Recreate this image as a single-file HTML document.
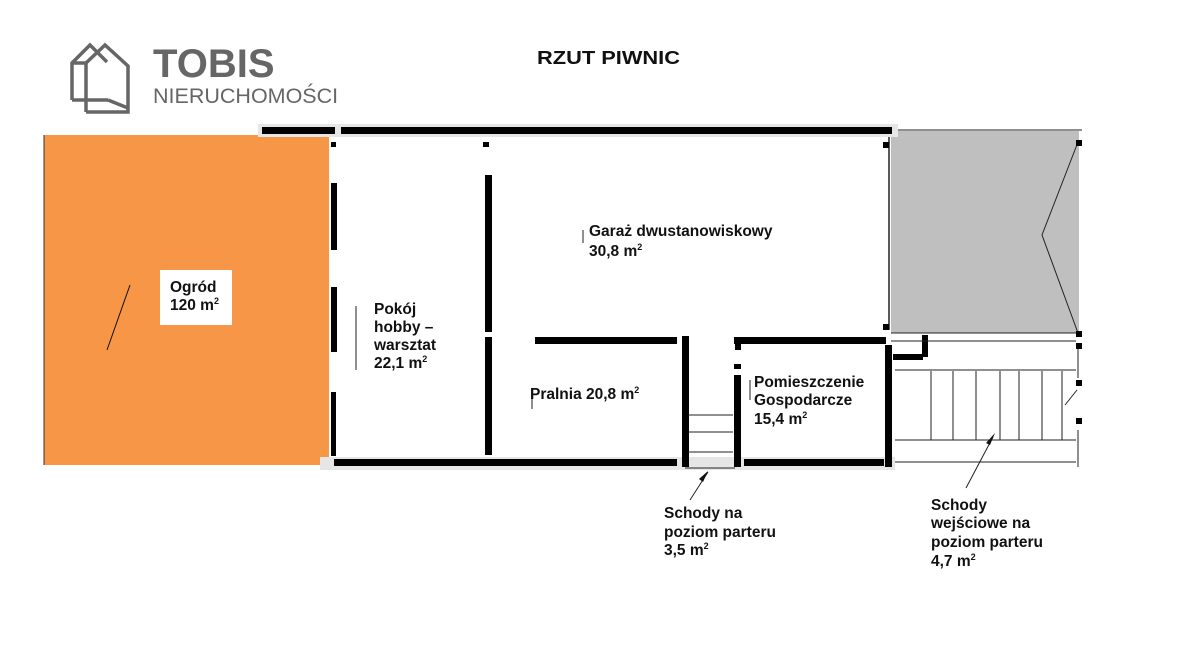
<!DOCTYPE html>
<html><head><meta charset="utf-8"><style>
html,body{margin:0;padding:0;background:#fff;width:1200px;height:650px;overflow:hidden}
svg{display:block}
text{font-family:"Liberation Sans",sans-serif;font-weight:bold;font-size:15.5px;fill:#111}
</style></head><body>
<svg width="1200" height="650" viewBox="0 0 1200 650">
<!-- logo -->
<g fill="none" stroke="#666" stroke-width="3.5" stroke-linejoin="miter">
<polyline points="72,100 72,63 90,45 107,62"/>
<line x1="72" y1="63" x2="86" y2="63"/>
<polyline points="86,112 86,63 105,45 128,66 128,112 86,112"/>
<line x1="72" y1="100" x2="108" y2="100"/>
<line x1="108" y1="100" x2="128" y2="108"/>
</g>
<text x="153" y="77" style="font-size:40px;fill:#666">TOBIS</text>
<text x="153" y="103" style="font-size:21.5px;font-weight:normal;fill:#666">NIERUCHOMOŚCI</text>
<text x="537" y="64" style="font-size:18px" textLength="143" lengthAdjust="spacingAndGlyphs">RZUT PIWNIC</text>

<!-- garden -->
<rect x="44" y="135" width="285" height="330" fill="#f79646"/>
<line x1="44" y1="135" x2="44" y2="465" stroke="#333" stroke-width="1"/>
<rect x="160" y="270" width="72" height="55" fill="#fff"/>
<line x1="107" y1="350" x2="130" y2="285" stroke="#111" stroke-width="1"/>
<text x="170" y="292">Ogród</text>
<text x="170" y="310">120 m<tspan dy="-6" style="font-size:9px">2</tspan></text>

<!-- grey area -->
<rect x="891" y="131" width="188" height="202" fill="#bfbfbf"/>
<polyline points="1078,142 1042,235 1078,333" fill="none" stroke="#222" stroke-width="1"/>
<line x1="889" y1="130" x2="1082" y2="130" stroke="#222" stroke-width="1"/>
<line x1="889" y1="130" x2="889" y2="330" stroke="#222" stroke-width="1.5"/>
<line x1="891" y1="333" x2="1080" y2="333" stroke="#222" stroke-width="1"/>

<!-- wall shadows -->
<g fill="#e6e6e6">
<rect x="258" y="124" width="640" height="13"/>
<rect x="320" y="457" width="575" height="13"/>
</g>
<!-- walls -->
<g fill="#000">
<rect x="262" y="127" width="73" height="7"/>
<rect x="341" y="127" width="551" height="7"/>
<rect x="331" y="183" width="6" height="67"/>
<rect x="331" y="287" width="6" height="65"/>
<rect x="331" y="392" width="5" height="64"/>
<rect x="334" y="459" width="343" height="7"/>
<rect x="485" y="175" width="7" height="157"/>
<rect x="485" y="337" width="7" height="118"/>
<rect x="535" y="337" width="142" height="7"/>
<rect x="682" y="336" width="7" height="131"/>
<rect x="734" y="375" width="7" height="92"/>
<rect x="734" y="337" width="152" height="7"/>
<rect x="744" y="459" width="140" height="7"/>
<rect x="885" y="345" width="7" height="122"/>
<rect x="922" y="335" width="6" height="22"/>
<rect x="893" y="354" width="30" height="6"/>
<rect x="331" y="142" width="5" height="5"/>
<rect x="483" y="142" width="6" height="5"/>
<rect x="735" y="344" width="6" height="6"/>
<rect x="734" y="364" width="7" height="5"/>
<rect x="883" y="142" width="6" height="6"/>
<rect x="883" y="324" width="6" height="6"/>
<rect x="1076" y="140" width="6" height="6"/>
<rect x="1076" y="331" width="6" height="6"/>
<rect x="1076" y="343" width="6" height="6"/>
<rect x="1076" y="380" width="6" height="6"/>
<rect x="1076" y="418" width="6" height="6"/>
</g>
<!-- stairs & leaders -->
<g stroke="#222" stroke-width="1" fill="none">
<line x1="688" y1="415" x2="733" y2="415"/>
<line x1="688" y1="432" x2="733" y2="432"/>
<line x1="688" y1="452" x2="733" y2="452"/>
<line x1="685" y1="468" x2="735" y2="468"/>
<line x1="891" y1="341" x2="1076" y2="341"/>
<line x1="895" y1="370" x2="1076" y2="370"/>
<line x1="895" y1="440" x2="1076" y2="440"/>
<line x1="895" y1="462" x2="1076" y2="462"/>
<line x1="931" y1="371" x2="931" y2="440"/>
<line x1="953" y1="371" x2="953" y2="440"/>
<line x1="976" y1="371" x2="976" y2="440"/>
<line x1="1000" y1="371" x2="1000" y2="440"/>
<line x1="1019" y1="371" x2="1019" y2="440"/>
<line x1="1042" y1="371" x2="1042" y2="440"/>
<line x1="1062" y1="371" x2="1062" y2="440"/>
<line x1="1078" y1="349" x2="1078" y2="378"/>
<line x1="1078" y1="430" x2="1078" y2="467"/>
<line x1="1077" y1="390" x2="1065" y2="405"/>
<line x1="356" y1="306" x2="356" y2="370"/>
<line x1="583" y1="230" x2="583" y2="243"/>
<line x1="532" y1="392" x2="532" y2="409"/>
<line x1="750" y1="380" x2="750" y2="400"/>
<line x1="708" y1="472" x2="690" y2="500"/>
<line x1="993" y1="437" x2="966" y2="488"/>
</g>
<polygon points="708,471 703,482 699,479" fill="#111"/>
<polygon points="995,433 990,445 986,443" fill="#111"/>

<!-- labels -->
<text x="589" y="236">Garaż dwustanowiskowy</text>
<text x="589" y="256">30,8 m<tspan dy="-6" style="font-size:9px">2</tspan></text>
<text x="374" y="314">Pokój</text>
<text x="374" y="332">hobby –</text>
<text x="374" y="350">warsztat</text>
<text x="374" y="368">22,1 m<tspan dy="-6" style="font-size:9px">2</tspan></text>
<text x="530" y="399">Pralnia 20,8 m<tspan dy="-6" style="font-size:9px">2</tspan></text>
<text x="754" y="387">Pomieszczenie</text>
<text x="754" y="405">Gospodarcze</text>
<text x="754" y="424">15,4 m<tspan dy="-6" style="font-size:9px">2</tspan></text>
<text x="664" y="518">Schody na</text>
<text x="664" y="537">poziom parteru</text>
<text x="664" y="555">3,5 m<tspan dy="-6" style="font-size:9px">2</tspan></text>
<text x="931" y="510">Schody</text>
<text x="931" y="528">wejściowe na</text>
<text x="931" y="547">poziom  parteru</text>
<text x="931" y="566">4,7 m<tspan dy="-6" style="font-size:9px">2</tspan></text>
</svg>
</body></html>
